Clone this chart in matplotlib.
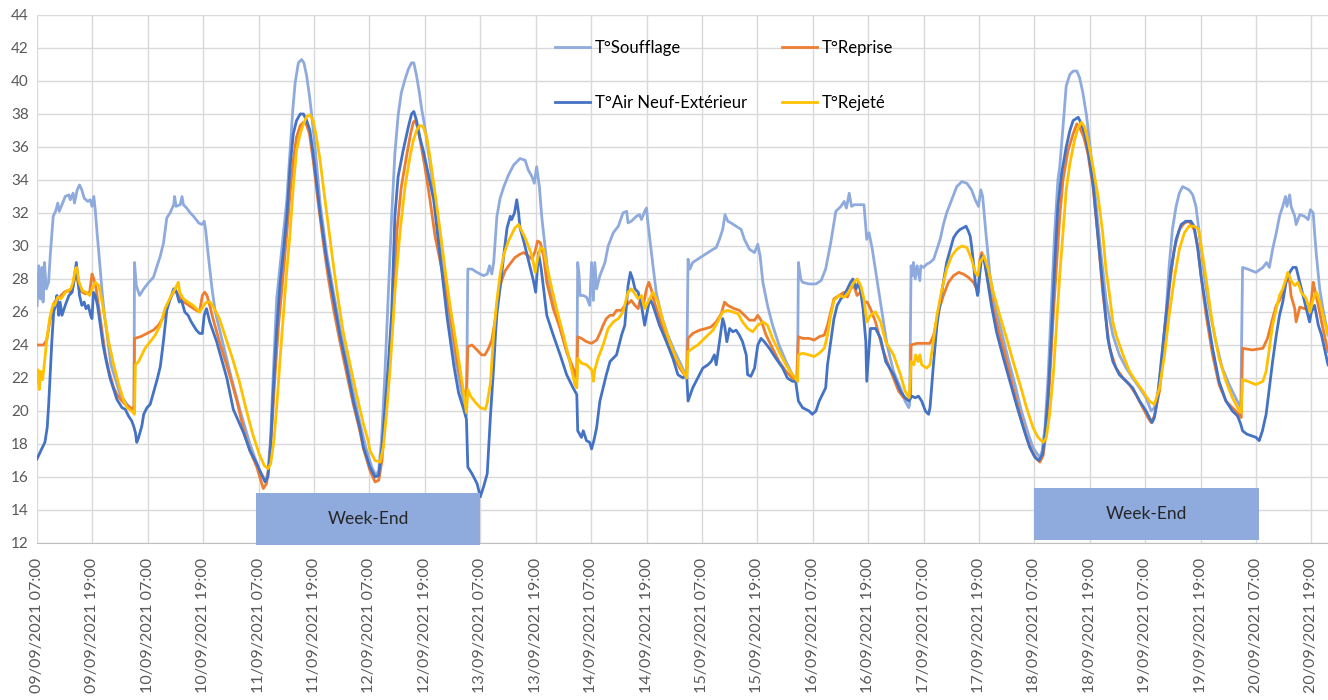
import matplotlib
matplotlib.use("Agg")
import matplotlib.pyplot as plt
from matplotlib.patches import Rectangle

plt.rcParams['font.family'] = ['Lato', 'DejaVu Sans']

# heures depuis le 09/09/2021 00:00 , valeur en °C
soufflage = [
    (7.0, 26.4), (7.4, 28.8), (7.7, 26.8), (8.1, 28.7), (8.3, 26.6), (8.6, 29.0), (9.0, 27.4), (9.5, 27.8),
    (9.9, 29.6), (10.5, 31.8), (11.0, 32.1), (11.5, 32.6), (11.8, 32.1), (12.4, 32.5), (13.1, 33.0), (13.9, 33.1),
    (14.2, 32.8), (14.8, 33.2), (15.1, 32.6), (15.7, 33.4), (16.2, 33.7), (16.7, 33.4), (17.2, 32.9), (18.0, 32.7),
    (18.5, 32.8), (18.9, 32.4), (19.3, 33.0), (19.6, 32.2), (20.0, 30.8), (20.5, 29.2), (21.1, 27.2), (21.6, 25.8),
    (23.0, 22.8), (25.0, 21.0), (27.0, 20.2), (28.0, 19.9),
    (28.1, 29.0), (28.5, 27.6), (29.2, 27.0), (30.1, 27.4), (31.2, 27.8), (32.2, 28.1), (33.0, 28.8), (33.7, 29.4),
    (34.4, 30.2), (35.1, 31.7), (35.8, 32.0), (36.6, 32.5), (36.8, 33.0), (37.1, 32.4), (38.0, 32.5), (38.4, 33.0),
    (38.7, 32.5), (39.4, 32.3), (40.2, 32.0), (40.9, 31.8), (42.0, 31.4), (42.7, 31.3), (43.2, 31.5), (43.5, 31.0),
    (44.1, 29.4), (44.9, 27.4), (45.6, 26.0), (47.0, 24.4), (49.0, 22.1), (51.0, 20.0), (53.0, 18.1), (55.0, 16.5),
    (56.4, 15.8), (57.0, 16.2), (57.6, 18.5), (58.2, 22.5), (58.9, 26.8), (60.0, 29.8), (61.1, 32.8), (61.8, 35.8),
    (62.4, 38.3), (62.9, 39.9), (63.6, 41.1), (64.3, 41.3), (64.8, 41.1), (65.4, 40.3), (66.0, 39.1), (66.5, 37.9),
    (67.2, 36.0), (68.3, 32.6), (69.7, 29.6), (71.2, 27.2), (72.6, 25.0), (74.1, 23.0), (75.5, 21.1), (76.9, 19.3),
    (78.3, 17.7), (79.5, 16.6), (80.4, 16.1), (81.0, 16.4), (81.6, 18.2), (82.3, 22.0), (83.1, 27.2), (83.8, 31.8),
    (84.5, 35.6), (85.2, 37.9), (85.9, 39.3), (86.7, 40.1), (87.4, 40.7), (88.1, 41.1), (88.6, 41.1), (89.2, 40.3),
    (89.8, 39.3), (90.3, 38.3), (91.0, 37.2), (92.2, 34.8), (93.7, 31.6), (95.1, 28.1), (96.5, 25.1), (98.0, 22.5),
    (99.4, 20.5), (100.0, 19.7),
    (100.3, 28.6), (101.2, 28.6), (102.3, 28.4), (103.7, 28.2), (104.5, 28.3), (105.0, 28.8), (105.5, 28.3),
    (105.9, 29.0), (106.6, 31.8), (107.3, 32.9), (108.1, 33.6), (109.1, 34.3), (110.2, 34.9), (111.6, 35.3),
    (112.7, 35.2), (113.4, 34.6), (114.2, 34.2), (114.7, 33.8), (115.2, 34.8), (115.8, 33.6), (116.3, 31.8),
    (117.0, 30.0), (117.7, 28.2), (118.8, 26.6), (120.3, 25.0), (121.7, 23.6), (123.1, 22.4), (123.9, 22.0),
    (124.1, 29.0), (124.4, 28.2), (124.6, 27.0), (125.3, 27.0), (126.0, 26.9), (126.7, 26.4), (127.1, 29.0),
    (127.5, 26.7), (127.8, 29.0), (128.2, 27.4), (128.9, 28.2), (130.0, 29.0), (130.7, 30.0), (131.8, 30.8),
    (132.9, 31.2), (133.9, 32.0), (134.7, 32.1), (135.0, 31.4), (135.7, 31.5), (136.8, 31.8), (137.5, 31.9),
    (137.9, 31.6), (138.6, 32.1), (139.0, 32.3), (139.3, 31.4), (139.8, 30.2), (140.4, 28.8), (141.1, 27.2),
    (142.2, 25.8), (143.6, 24.6), (145.1, 23.6), (146.5, 22.8), (147.7, 22.0),
    (148.0, 29.2), (148.4, 28.6), (148.7, 28.8), (149.0, 29.0), (150.1, 29.2), (151.2, 29.4), (152.3, 29.6),
    (153.4, 29.8), (154.1, 29.9), (154.8, 30.4), (155.5, 31.0), (156.0, 31.9), (156.6, 31.5), (157.3, 31.4),
    (158.4, 31.2), (159.5, 31.0), (160.2, 30.4), (161.3, 29.8), (162.4, 29.6), (163.1, 30.1), (163.6, 29.4),
    (164.2, 27.8), (165.2, 26.4), (166.3, 25.2), (167.7, 24.0), (169.2, 23.0), (170.6, 22.2), (171.7, 21.8),
    (171.9, 29.0), (172.4, 28.0), (172.8, 27.8), (174.2, 27.7), (175.7, 27.7), (176.8, 27.9), (177.8, 28.6),
    (178.9, 30.2), (180.0, 32.1), (181.1, 32.4), (181.8, 32.7), (182.3, 32.3), (182.9, 33.2), (183.4, 32.4),
    (184.0, 32.5), (185.1, 32.5), (186.1, 32.5), (186.7, 30.4), (187.2, 30.8), (187.9, 29.8), (189.0, 27.8),
    (190.1, 25.8), (191.1, 24.0), (192.5, 22.4), (194.0, 21.4), (195.0, 20.6), (195.8, 20.2), (196.0, 20.4),
    (196.3, 28.8), (196.6, 28.2), (196.8, 29.0), (197.2, 28.0), (197.6, 28.8), (198.2, 27.9), (198.4, 28.8),
    (199.0, 28.7), (199.7, 28.9), (200.4, 29.0), (201.2, 29.2), (201.9, 29.8), (202.6, 30.4), (203.3, 31.3),
    (204.0, 32.0), (205.1, 32.8), (206.2, 33.6), (207.3, 33.9), (208.4, 33.8), (209.4, 33.4), (210.2, 32.8),
    (210.9, 32.4), (211.4, 33.4), (211.8, 33.0), (212.5, 30.8), (213.4, 28.2), (214.5, 26.4), (215.9, 24.8),
    (217.3, 23.2), (218.8, 21.6), (220.2, 20.0), (221.7, 18.6), (222.7, 17.8), (223.6, 17.4), (224.2, 17.2),
    (224.7, 17.6), (225.3, 19.0), (226.0, 22.2), (226.7, 26.6), (227.4, 30.8), (228.1, 34.0), (228.5, 34.8),
    (229.2, 37.2), (229.9, 39.7), (230.7, 40.4), (231.4, 40.6), (232.2, 40.6), (232.8, 40.2), (233.5, 39.3),
    (234.3, 37.9), (235.0, 36.2), (235.7, 34.4), (236.4, 32.4), (237.4, 29.6), (238.6, 26.6), (240.0, 24.6),
    (241.4, 23.4), (242.9, 22.6), (244.3, 22.0), (245.8, 21.4), (247.2, 20.8), (248.3, 20.0), (249.0, 20.2),
    (249.7, 21.0), (250.4, 22.6), (251.5, 25.8), (252.2, 28.8), (252.9, 31.0), (253.7, 32.4), (254.4, 33.2),
    (255.1, 33.6), (255.8, 33.5), (256.5, 33.4), (257.3, 33.1), (258.0, 32.4), (258.7, 30.8), (259.8, 28.2),
    (260.9, 26.2), (262.3, 24.2), (263.7, 22.6), (265.2, 21.6), (266.6, 20.8), (267.7, 20.2),
    (268.1, 28.7), (269.2, 28.6), (271.0, 28.4), (272.5, 28.7), (273.3, 29.0), (273.9, 28.7), (274.6, 29.8),
    (275.4, 30.8), (276.1, 31.8), (276.8, 32.4), (277.4, 33.0), (277.7, 32.4), (278.3, 33.1), (278.6, 32.4),
    (279.4, 31.8), (279.7, 31.3), (280.5, 31.9), (281.5, 31.8), (282.3, 31.6), (282.8, 32.2), (283.4, 32.0),
    (283.7, 30.8), (284.1, 29.4), (284.8, 27.4), (285.5, 26.2), (286.6, 24.6),
]

reprise = [
    (7.0, 24.0), (7.7, 24.0), (8.4, 24.0), (9.1, 24.3), (9.8, 25.5), (10.5, 26.3), (10.8, 26.6), (11.5, 26.8),
    (12.2, 27.0), (12.9, 27.2), (13.6, 27.3), (14.3, 27.2), (14.8, 27.6), (15.3, 28.6), (15.6, 28.2), (16.1, 27.4),
    (16.8, 27.2), (17.5, 27.1), (18.4, 27.2), (18.9, 28.3), (19.3, 28.0), (19.8, 27.4), (20.4, 26.2), (21.1, 24.8),
    (21.8, 23.4), (22.5, 22.5), (23.5, 21.5), (24.3, 21.0), (25.4, 20.6), (26.1, 20.4), (26.8, 20.3), (27.5, 20.1),
    (28.0, 20.3),
    (28.1, 24.4), (29.4, 24.5), (30.8, 24.7), (32.2, 24.9), (33.3, 25.2), (34.4, 25.7), (35.1, 26.3), (35.8, 26.8),
    (36.6, 27.2), (36.9, 27.4), (37.6, 27.0), (38.3, 26.7), (39.4, 26.5), (40.4, 26.3), (41.5, 26.1), (42.2, 26.0),
    (42.8, 27.0), (43.3, 27.2), (43.8, 27.0), (44.4, 26.4), (45.1, 25.6), (46.5, 24.2), (48.7, 22.2), (50.3, 20.6),
    (51.7, 18.9), (53.1, 17.6), (54.6, 16.6), (56.0, 15.3), (56.7, 15.6), (57.3, 16.8), (57.9, 19.2), (58.6, 22.4),
    (59.3, 25.2), (60.1, 27.6), (61.1, 30.8), (61.8, 33.2), (62.5, 35.2), (63.2, 36.6), (64.0, 37.3), (64.7, 37.5),
    (65.3, 37.4), (66.0, 36.8), (66.8, 35.2), (67.9, 32.6), (69.0, 30.2), (70.0, 28.2), (71.2, 26.2), (72.6, 24.2),
    (74.1, 22.2), (75.5, 20.4), (76.9, 18.8), (77.7, 17.7), (79.1, 16.4), (80.2, 15.7), (81.0, 15.8), (81.7, 17.0),
    (82.4, 19.5), (83.1, 21.9), (83.8, 24.5), (84.3, 26.7), (84.9, 30.8), (85.9, 33.6), (87.0, 35.4), (87.9, 36.8),
    (88.5, 37.5), (88.9, 37.6), (89.4, 37.2), (90.1, 36.2), (91.0, 34.8), (92.1, 32.8), (93.2, 30.6), (95.1, 28.0),
    (96.5, 25.8), (98.0, 23.0), (99.2, 21.3), (100.0, 20.9),
    (100.3, 23.9), (101.2, 24.0), (102.3, 23.7), (103.3, 23.4), (104.0, 23.4), (104.8, 23.8), (105.5, 24.3),
    (106.2, 25.5), (106.9, 27.1), (107.6, 27.9), (108.4, 28.5), (109.4, 28.9), (110.5, 29.3), (111.6, 29.5),
    (112.4, 29.6), (113.4, 29.4), (114.2, 29.2), (114.9, 29.7), (115.4, 30.3), (116.0, 30.2), (116.7, 29.4),
    (117.4, 27.8), (118.8, 26.2), (120.3, 25.0), (121.7, 23.6), (123.1, 22.6), (123.9, 22.0),
    (124.1, 24.5), (124.9, 24.4), (126.0, 24.2), (127.1, 24.1), (128.2, 24.3), (128.9, 24.7), (129.6, 25.2),
    (130.3, 25.6), (131.1, 25.8), (131.8, 25.8), (132.5, 26.1), (133.6, 26.1), (134.3, 26.4), (135.0, 26.5),
    (135.7, 26.7), (136.5, 26.4), (137.2, 26.2), (137.5, 26.6), (138.3, 26.4), (139.0, 27.4), (139.5, 27.8),
    (140.0, 27.4), (140.7, 26.6), (141.8, 25.6), (143.3, 24.4), (144.7, 23.4), (146.2, 22.6), (147.2, 22.2),
    (147.7, 22.0),
    (148.0, 24.4), (149.0, 24.7), (150.5, 24.9), (151.9, 25.0), (153.0, 25.1), (154.1, 25.4), (155.2, 25.9),
    (155.9, 26.6), (156.6, 26.4), (157.3, 26.3), (158.0, 26.2), (159.1, 26.1), (160.2, 25.8), (161.3, 25.5),
    (162.4, 25.5), (163.1, 25.8), (163.8, 25.5), (164.9, 24.6), (166.3, 23.8), (167.7, 23.0), (169.2, 22.4),
    (170.6, 22.0), (171.5, 21.8),
    (171.9, 24.5), (172.8, 24.4), (174.2, 24.4), (175.3, 24.3), (176.4, 24.5), (177.5, 24.6), (178.2, 25.2),
    (178.9, 26.0), (179.6, 26.8), (180.7, 27.0), (181.8, 27.2), (182.5, 26.9), (183.2, 27.4), (183.9, 27.6),
    (184.6, 27.0), (185.4, 27.2), (186.1, 26.6), (186.8, 26.6), (187.5, 26.2), (188.6, 25.4), (190.1, 23.8),
    (191.1, 23.0), (192.5, 22.0), (193.6, 21.2), (194.7, 20.8), (195.8, 20.7), (196.2, 20.9),
    (196.3, 24.0), (197.6, 24.1), (199.0, 24.1), (200.4, 24.1), (201.2, 24.6), (202.2, 26.0), (203.3, 27.0),
    (204.4, 27.8), (205.5, 28.2), (206.6, 28.4), (207.6, 28.3), (208.7, 28.1), (209.8, 27.8), (210.5, 27.4),
    (210.9, 27.2), (211.2, 29.2), (211.6, 29.6), (212.3, 29.0), (213.0, 27.8), (214.1, 26.2), (215.5, 24.6),
    (217.0, 23.0), (218.4, 21.4), (219.9, 19.8), (221.3, 18.4), (222.4, 17.6), (223.5, 17.1), (224.2, 16.9),
    (224.9, 17.3), (225.6, 18.8), (226.3, 21.8), (227.1, 25.8), (227.8, 28.8), (228.5, 31.8), (229.2, 34.0),
    (230.3, 35.8), (231.4, 36.8), (232.2, 37.4), (232.8, 37.2), (233.7, 36.6), (234.6, 35.6), (235.7, 33.6),
    (236.8, 30.5), (237.8, 27.2), (239.3, 23.8), (240.7, 22.6), (242.2, 22.0), (243.6, 21.6), (245.0, 21.0),
    (246.5, 20.2), (247.6, 19.6), (248.3, 19.3), (249.0, 19.7), (250.1, 21.2), (251.2, 24.0), (252.2, 27.4),
    (253.3, 29.8), (254.4, 31.0), (255.5, 31.4), (256.5, 31.5), (257.6, 31.0), (258.4, 30.0), (259.1, 28.2),
    (260.2, 25.8), (261.6, 23.4), (263.0, 21.6), (264.5, 20.6), (265.9, 20.2), (267.3, 19.8), (267.8, 19.6),
    (268.1, 23.8), (270.2, 23.7), (272.5, 23.8), (273.5, 24.4), (274.6, 25.6), (275.4, 26.4), (276.1, 26.7),
    (276.8, 27.2), (277.5, 27.8), (277.9, 28.2), (278.3, 27.8), (278.6, 27.0), (279.4, 26.2), (279.7, 25.4),
    (280.5, 26.3), (281.5, 26.2), (282.3, 26.4), (282.7, 26.0), (283.4, 27.8), (283.7, 27.4), (284.5, 26.4),
    (285.2, 25.4), (286.6, 23.6),
]

air_neuf = [
    (7.0, 17.1), (8.0, 17.7), (8.7, 18.1), (9.2, 19.0), (9.5, 20.3), (9.9, 22.5), (10.2, 24.2), (10.6, 26.0),
    (11.0, 26.4), (11.3, 27.0), (11.7, 25.8), (12.0, 26.6), (12.4, 25.8), (13.1, 26.4), (13.9, 27.0), (14.6, 27.2),
    (15.1, 28.0), (15.5, 29.0), (15.8, 28.2), (16.2, 27.0), (16.7, 26.4), (17.2, 26.6), (17.6, 26.2), (18.1, 26.4),
    (18.6, 25.8), (18.9, 25.6), (19.2, 27.2), (19.6, 27.0), (20.1, 26.4), (20.6, 25.4), (21.3, 24.0), (22.0, 23.0),
    (22.8, 22.0), (24.3, 20.7), (25.4, 20.2), (26.1, 20.1), (26.8, 19.7), (27.5, 19.4), (27.9, 19.1), (28.3, 18.7),
    (28.6, 18.1), (29.0, 18.4), (29.7, 19.1), (30.1, 19.8), (30.8, 20.2), (31.5, 20.4), (32.2, 21.1), (33.0, 21.9),
    (33.7, 22.7), (34.4, 24.3), (35.1, 26.1), (35.4, 26.4), (36.1, 27.0), (36.6, 27.4), (37.2, 27.2), (37.8, 26.6),
    (38.3, 26.7), (39.0, 26.0), (39.7, 25.8), (40.4, 25.4), (41.5, 24.9), (42.2, 24.7), (42.8, 24.7), (43.2, 25.8),
    (43.7, 26.2), (44.4, 25.4), (45.9, 24.2), (48.1, 22.0), (49.5, 20.1), (51.7, 18.7), (53.1, 17.6), (54.6, 16.8),
    (55.7, 16.1), (56.4, 15.7), (57.0, 16.0), (57.6, 18.0), (58.1, 20.9), (58.9, 24.9), (59.6, 27.6), (60.4, 29.8),
    (61.1, 31.8), (61.8, 34.8), (62.5, 36.8), (63.2, 37.6), (64.0, 38.0), (64.7, 38.0), (65.4, 37.6), (66.1, 37.0),
    (66.8, 35.6), (68.3, 32.0), (69.7, 29.2), (71.2, 26.8), (72.6, 24.6), (74.1, 22.6), (75.5, 20.6), (76.9, 19.0),
    (77.7, 17.8), (79.1, 16.6), (80.2, 16.0), (81.0, 16.1), (81.7, 17.8), (82.4, 20.3), (83.1, 22.9), (83.8, 25.9),
    (84.5, 31.8), (85.2, 34.2), (86.3, 35.8), (87.4, 37.2), (88.1, 38.0), (88.6, 38.15), (89.2, 37.6), (89.9, 36.6),
    (90.8, 35.6), (92.9, 32.8), (94.4, 29.1), (95.8, 25.7), (97.3, 22.7), (98.3, 21.1), (99.4, 20.1), (100.0, 19.5),
    (100.3, 16.6), (101.2, 16.2), (102.3, 15.6), (103.0, 14.8), (103.7, 15.4), (104.5, 16.2), (105.2, 19.7),
    (105.9, 22.7), (106.3, 24.7), (106.6, 25.9), (107.3, 27.5), (108.1, 29.5), (108.8, 31.1), (109.5, 31.8),
    (109.8, 31.6), (110.4, 32.0), (110.9, 32.8), (111.3, 32.0), (111.6, 31.1), (112.4, 30.3), (113.1, 29.5),
    (113.8, 28.7), (114.5, 27.9), (115.0, 27.2), (115.6, 29.6), (116.2, 28.6), (117.4, 25.8), (118.8, 24.6),
    (120.3, 23.4), (121.7, 22.2), (123.1, 21.4), (123.9, 21.0), (124.1, 18.8), (124.9, 18.4), (125.3, 18.8),
    (126.0, 18.2), (126.7, 18.1), (127.1, 17.7), (127.6, 18.2), (128.2, 19.0), (128.9, 20.6), (129.6, 21.4),
    (130.3, 22.2), (131.1, 23.0), (131.8, 23.2), (132.5, 23.4), (133.6, 24.6), (134.3, 25.2), (135.0, 27.6),
    (135.5, 28.4), (136.0, 28.0), (136.5, 27.4), (137.2, 27.2), (137.9, 26.4), (138.6, 25.2), (139.0, 25.8),
    (139.7, 26.8), (140.4, 26.4), (141.8, 25.2), (143.3, 24.2), (144.7, 23.2), (145.8, 22.2), (146.9, 22.0),
    (147.7, 22.2), (148.0, 20.6), (149.0, 21.4), (150.1, 22.0), (151.2, 22.6), (152.3, 22.8), (153.0, 23.0),
    (153.7, 23.4), (154.1, 22.8), (154.8, 24.2), (155.5, 25.6), (155.9, 25.2), (156.4, 24.2), (157.0, 25.0),
    (157.7, 24.8), (158.4, 24.9), (159.1, 24.6), (159.8, 24.2), (160.6, 23.4), (160.9, 22.2), (161.6, 22.1),
    (162.4, 22.6), (163.1, 24.0), (163.8, 24.4), (164.5, 24.2), (165.6, 23.8), (167.0, 23.2), (168.5, 22.6),
    (169.5, 22.0), (170.6, 21.8), (171.3, 21.8), (171.9, 20.6), (172.8, 20.2), (174.2, 20.0), (174.9, 19.8),
    (175.7, 20.0), (176.4, 20.6), (177.1, 21.0), (177.8, 21.4), (178.2, 22.8), (178.9, 24.2), (179.6, 25.6),
    (180.3, 26.4), (181.1, 26.8), (181.8, 27.0), (182.5, 27.4), (183.2, 27.8), (183.7, 28.0), (184.4, 27.4),
    (184.9, 27.8), (185.4, 27.2), (185.9, 26.2), (186.5, 24.2), (186.7, 21.8), (187.5, 25.0), (188.6, 25.0),
    (189.7, 24.4), (190.8, 23.0), (192.5, 22.2), (194.0, 21.2), (195.0, 20.8), (195.8, 20.6), (196.5, 20.9),
    (197.2, 20.8), (197.9, 20.9), (198.6, 20.6), (199.4, 20.0), (200.1, 19.8), (200.4, 20.2), (201.2, 23.0),
    (201.9, 25.2), (202.6, 26.6), (203.3, 27.8), (204.0, 29.0), (204.8, 29.8), (205.5, 30.5), (206.2, 30.8),
    (206.9, 31.0), (207.6, 31.1), (208.2, 31.2), (208.7, 30.9), (209.1, 30.6), (209.4, 30.0), (209.8, 29.0),
    (210.2, 27.8), (210.7, 27.0), (211.0, 27.8), (211.6, 29.4), (212.1, 29.2), (212.7, 28.2), (213.7, 26.4),
    (214.8, 24.8), (216.3, 23.2), (217.7, 21.8), (219.1, 20.4), (220.6, 19.0), (222.0, 17.8), (223.1, 17.2),
    (224.0, 17.0), (224.8, 17.4), (225.3, 18.6), (226.0, 21.0), (226.7, 24.6), (227.4, 28.8), (228.1, 32.4),
    (228.9, 34.4), (229.9, 36.0), (230.7, 37.0), (231.4, 37.6), (232.5, 37.8), (233.2, 37.4), (233.9, 36.8),
    (234.6, 35.8), (235.7, 33.8), (236.8, 30.5), (237.8, 27.6), (238.9, 24.4), (240.0, 23.0), (241.4, 22.2),
    (242.9, 21.8), (244.3, 21.4), (245.8, 20.6), (247.2, 20.0), (247.9, 19.6), (248.5, 19.3), (249.0, 19.6),
    (249.7, 20.8), (250.4, 22.8), (251.5, 25.8), (252.6, 28.6), (253.7, 30.4), (254.8, 31.3), (255.8, 31.5),
    (256.9, 31.5), (257.6, 31.2), (258.4, 29.8), (259.1, 28.2), (260.2, 26.2), (261.6, 23.8), (263.0, 21.8),
    (264.5, 20.6), (265.9, 20.0), (267.0, 19.7), (267.7, 19.2),
    (268.1, 18.8), (269.0, 18.6), (270.0, 18.5), (271.0, 18.4), (271.7, 18.2), (272.4, 18.8), (273.2, 19.8),
    (273.9, 21.4), (274.6, 23.0), (275.4, 24.6), (276.1, 25.8), (276.8, 26.6), (277.5, 27.8), (278.3, 28.4),
    (279.0, 28.7), (279.7, 28.7), (280.5, 27.8), (281.2, 27.0), (281.9, 26.2), (282.6, 25.4), (283.0, 26.0),
    (283.7, 26.4), (284.5, 25.2), (285.2, 24.6), (286.6, 22.8),
]

rejete = [
    (7.0, 21.7), (7.2, 22.5), (7.5, 21.3), (7.8, 22.4), (8.2, 21.9), (8.6, 22.9), (9.1, 24.3), (9.8, 25.7),
    (10.5, 26.5), (10.8, 26.4), (11.5, 26.9), (12.2, 26.8), (12.9, 27.1), (13.6, 27.3), (14.3, 27.4), (14.8, 27.8),
    (15.3, 28.6), (15.6, 28.7), (16.1, 27.8), (16.8, 27.3), (17.5, 27.2), (18.4, 27.0), (18.9, 27.4), (19.6, 27.8),
    (20.4, 27.6), (21.1, 26.6), (21.8, 25.4), (22.5, 24.2), (23.6, 22.8), (24.7, 21.6), (25.8, 20.6), (26.5, 20.2),
    (27.5, 20.0), (28.1, 19.8),
    (28.3, 22.8), (29.0, 23.0), (29.7, 23.4), (30.4, 23.8), (31.5, 24.2), (32.6, 24.6), (33.7, 25.2), (34.7, 26.2),
    (35.4, 26.6), (36.1, 27.0), (36.9, 27.4), (37.6, 27.8), (37.9, 27.2), (38.7, 26.8), (39.7, 26.6), (40.8, 26.4),
    (42.2, 26.0), (43.1, 26.4), (43.7, 26.6), (44.5, 26.6), (45.4, 26.2), (46.5, 25.6), (47.9, 24.4), (49.3, 23.2),
    (50.8, 21.8), (52.2, 20.2), (53.7, 18.6), (55.1, 17.4), (56.2, 16.7), (57.0, 16.5), (57.6, 16.8), (58.3, 18.2),
    (59.0, 20.6), (59.7, 23.4), (60.4, 26.0), (61.0, 28.2), (61.8, 30.8), (62.5, 33.6), (63.2, 35.8), (64.0, 36.8),
    (64.7, 37.4), (65.4, 37.85), (66.1, 37.95), (66.8, 37.6), (67.5, 36.6), (68.3, 35.2), (69.0, 33.6), (70.1, 31.2),
    (71.2, 28.8), (72.2, 26.8), (73.3, 24.8), (74.8, 22.8), (76.2, 21.0), (77.7, 19.2), (78.7, 18.2), (79.1, 17.6),
    (80.2, 17.0), (81.3, 16.9), (82.0, 17.8), (82.7, 19.9), (83.5, 22.7), (84.2, 25.9), (84.5, 27.2), (85.6, 30.8),
    (86.7, 33.6), (87.4, 34.8), (87.9, 35.6), (88.5, 36.4), (89.2, 37.0), (89.9, 37.3), (90.6, 37.25), (91.4, 36.6),
    (92.2, 35.2), (93.3, 33.0), (94.4, 30.7), (95.5, 28.3), (96.5, 26.3), (98.0, 23.7), (99.4, 21.1), (100.0, 19.9),
    (100.3, 21.3), (100.9, 20.9), (102.0, 20.5), (103.0, 20.2), (104.1, 20.1), (104.5, 20.5), (105.2, 21.7),
    (105.9, 24.7), (106.6, 26.7), (107.3, 28.3), (108.1, 29.5), (109.1, 30.3), (109.8, 30.7), (110.5, 31.1),
    (111.3, 31.3), (112.0, 30.9), (112.7, 30.5), (113.4, 30.0), (114.2, 29.4), (114.9, 28.4), (115.4, 29.2),
    (116.0, 29.9), (116.7, 29.8), (117.4, 28.8), (118.5, 27.4), (119.5, 26.2), (121.0, 24.6), (122.4, 23.0),
    (123.5, 21.6), (123.9, 21.4),
    (124.1, 23.2), (124.9, 22.9), (126.0, 22.8), (127.1, 22.5), (127.5, 21.8), (127.8, 22.5), (128.5, 23.2),
    (129.6, 24.0), (130.7, 25.0), (131.8, 25.4), (132.9, 25.6), (133.9, 26.0), (135.0, 27.2), (135.7, 27.4),
    (136.5, 27.1), (137.2, 26.8), (137.9, 27.0), (138.6, 26.2), (139.3, 26.6), (140.4, 27.2), (141.5, 26.6),
    (142.6, 25.4), (144.0, 24.2), (145.4, 23.2), (146.9, 22.4), (147.7, 22.0),
    (148.0, 23.6), (149.0, 23.8), (150.1, 24.0), (151.2, 24.3), (152.3, 24.6), (153.4, 24.9), (154.4, 25.4),
    (155.5, 26.0), (156.6, 26.1), (157.7, 26.0), (158.8, 25.9), (159.8, 25.4), (160.9, 25.0), (162.0, 24.8),
    (163.1, 25.2), (164.2, 25.4), (165.2, 25.2), (166.3, 24.4), (167.7, 23.6), (169.2, 22.8), (170.6, 22.2),
    (171.7, 21.8),
    (171.9, 23.4), (172.8, 23.5), (174.2, 23.4), (175.3, 23.3), (176.4, 23.5), (177.5, 23.8), (178.2, 24.6),
    (178.9, 25.8), (179.6, 26.7), (180.7, 27.0), (181.8, 26.9), (182.8, 27.2), (183.9, 27.8), (184.6, 28.0),
    (185.4, 27.6), (186.1, 26.8), (186.7, 25.4), (187.5, 25.8), (188.6, 26.0), (189.7, 25.4), (190.8, 24.2),
    (192.5, 23.4), (194.0, 22.2), (195.0, 21.2), (195.9, 20.8),
    (196.3, 23.0), (196.9, 22.8), (197.3, 23.4), (197.8, 23.0), (198.2, 23.4), (198.6, 22.8), (199.7, 22.6),
    (200.4, 22.8), (201.2, 24.4), (201.9, 25.8), (203.0, 27.4), (204.0, 28.6), (205.1, 29.4), (206.2, 29.8),
    (207.3, 30.0), (208.4, 29.9), (209.4, 29.2), (210.2, 28.4), (210.7, 28.2), (211.2, 29.0), (212.1, 29.4),
    (213.0, 28.6), (214.1, 27.2), (215.5, 25.8), (217.0, 24.4), (218.4, 23.0), (219.9, 21.6), (221.3, 20.2),
    (222.7, 19.0), (223.8, 18.4), (224.9, 18.1), (225.6, 18.4), (226.3, 19.8), (227.1, 22.2), (227.8, 25.2),
    (228.5, 28.2), (229.2, 30.8), (229.9, 33.4), (230.7, 35.0), (231.7, 36.4), (232.5, 37.2), (233.2, 37.5),
    (233.9, 37.2), (234.6, 36.4), (235.7, 34.8), (236.8, 33.0), (237.8, 30.8), (238.5, 28.6), (239.3, 27.0),
    (240.0, 25.4), (240.7, 24.6), (242.2, 23.4), (243.6, 22.4), (245.0, 21.8), (246.5, 21.2), (247.9, 20.6),
    (249.0, 20.4), (250.1, 21.4), (251.2, 23.4), (252.2, 25.8), (253.3, 28.0), (254.4, 29.8), (255.5, 30.8),
    (256.5, 31.2), (257.6, 31.2), (258.6, 31.0), (260.1, 28.2), (261.5, 25.4), (263.0, 23.2), (264.5, 21.8),
    (265.9, 20.8), (267.4, 20.0), (267.8, 19.9),
    (268.1, 21.9), (269.2, 21.8), (271.0, 21.6), (272.5, 21.8), (273.2, 22.4), (273.9, 23.8), (274.6, 25.2),
    (275.4, 26.2), (276.1, 27.0), (276.8, 27.4), (277.5, 28.0), (277.9, 28.4), (278.6, 27.9), (279.4, 27.6),
    (280.1, 27.8), (280.8, 27.2), (281.9, 26.8), (282.7, 26.0), (283.4, 26.8), (284.1, 27.2), (284.8, 26.6),
    (285.9, 25.4), (286.6, 24.6),
]

tick_hours = [7 + 12 * i for i in range(24)]
tick_labels = [
    "09/09/2021 07:00", "09/09/2021 19:00", "10/09/2021 07:00", "10/09/2021 19:00",
    "11/09/2021 07:00", "11/09/2021 19:00", "12/09/2021 07:00", "12/09/2021 19:00",
    "13/09/2021 07:00", "13/09/2021 19:00", "14/09/2021 07:00", "14/09/2021 19:00",
    "15/09/2021 07:00", "15/09/2021 19:00", "16/09/2021 07:00", "16/09/2021 19:00",
    "17/09/2021 07:00", "17/09/2021 19:00", "18/09/2021 07:00", "18/09/2021 19:00",
    "19/09/2021 07:00", "19/09/2021 19:00", "20/09/2021 07:00", "20/09/2021 19:00",
]

fig = plt.figure(figsize=(13.28, 7.0), dpi=100)
ax = fig.add_axes([0.0279, 0.2243, 0.9721, 0.7543])

series = [
    ("T°Soufflage", soufflage, "#8FAADC"),
    ("T°Reprise", reprise, "#ED7D31"),
    ("T°Air Neuf-Extérieur", air_neuf, "#4472C4"),
    ("T°Rejeté", rejete, "#FFC000"),
]
lines = {}
for name, pts, col in series:
    h, v = zip(*pts)
    lines[name], = ax.plot(h, v, color=col, lw=2.0, label=name, solid_joinstyle='round')

ax.set_xlim(7, 286.6)
ax.set_ylim(12, 44)
ax.set_yticks(range(12, 45, 2))
ax.set_xticks(tick_hours)
ax.set_xticklabels(tick_labels, rotation=90)
ax.grid(True, color='#D9D9D9', lw=1.0)
ax.set_axisbelow(True)
for s in ['top', 'right', 'left']:
    ax.spines[s].set_visible(False)
ax.spines['bottom'].set_color('#BFBFBF')
ax.tick_params(axis='both', length=0, labelcolor='#595959')
ax.tick_params(axis='x', pad=11, labelsize=11.6)
ax.tick_params(axis='y', pad=6, labelsize=11)

# cadres week-end
for x0, x1, y0, y1 in [(54.4, 103.0, 11.85, 15.03), (223.0, 271.7, 12.18, 15.35)]:
    ax.add_patch(Rectangle((x0, y0), x1 - x0, y1 - y0, facecolor='#8FAADC',
                           edgecolor='none', clip_on=False, zorder=5))
    ax.text((x0 + x1) / 2, (y0 + y1) / 2, "Week-End", ha='center', va='center',
            fontsize=12.5, color='#262626', zorder=6)

order = ["T°Soufflage", "T°Air Neuf-Extérieur", "T°Reprise", "T°Rejeté"]
ax.legend([lines[n] for n in order], order, ncol=2, loc='upper left',
          bbox_to_anchor=(0.401, 0.952), frameon=False, fontsize=12,
          handlelength=2.1, handletextpad=0.3, columnspacing=2.1,
          labelspacing=2.3, borderpad=0, borderaxespad=0)

fig.savefig("out.png", dpi=100)
